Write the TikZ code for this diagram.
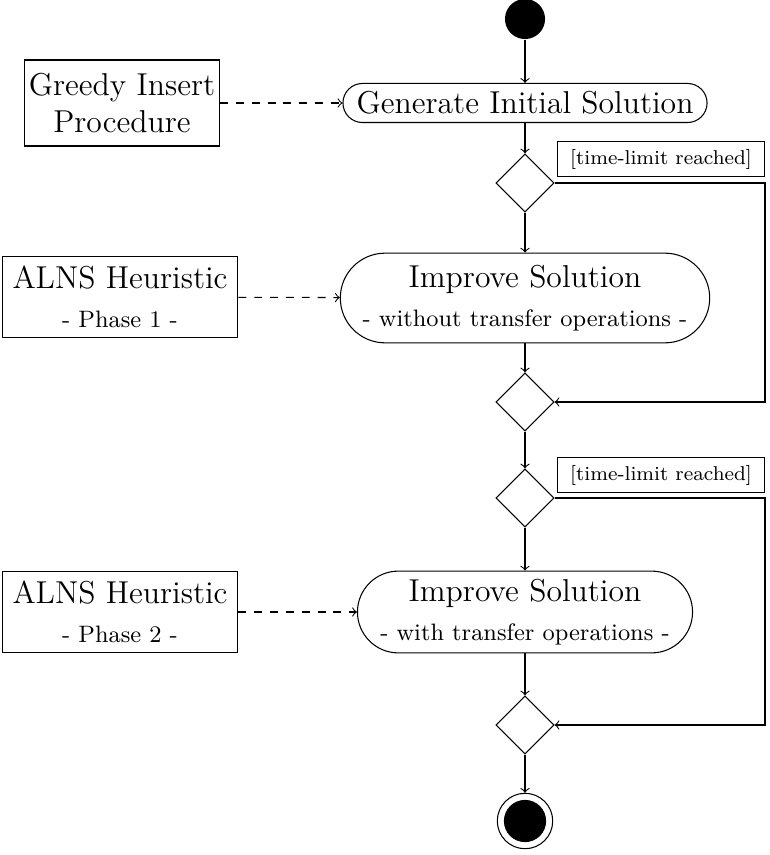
\documentclass[tikz,border=0pt]{standalone}
\usepackage{tikz}
\usetikzlibrary{positioning}
\usetikzlibrary{shapes.geometric}
\usetikzlibrary{calc}

\begin{document}
\begin{tikzpicture}[x=0.379pt,y=-0.379pt]
		\tikzset{
			action/.style={draw,rounded corners=7.4pt,minimum width=138pt,minimum height=14.8pt,inner sep=0pt,font=\large,align=center},
		}
		\tikzset{
			procbox/.style={draw,rectangle,inner sep=0pt,font=\large,align=center},
		}
		\tikzset{
			decision/.style={draw,diamond,minimum size=22pt,inner sep=0pt},
		}
		\tikzset{
			guard/.style={draw,rectangle,minimum width=78.5pt,minimum height=13.6pt,inner sep=0pt,font=\fontsize{7.6}{9}\selectfont},
		}
		\tikzset{
			edge/.style={color=black},
		}
		
		\useasboundingbox (0,0) rectangle (769,855);
		
		\node[circle,fill=black,minimum size=15.2pt,inner sep=0pt] (start) at (525, 19) {};
		
		\node[action] (gen) at (525, 103) {Generate Initial Solution};
		\node[procbox,minimum width=74pt,minimum height=32.6pt] (greedy) at (122, 103) {Greedy Insert\\Procedure};
		
		\node[decision] (d1) at (525, 183) {};
		\node[guard] (lab1) at (661, 159) {[time-limit reached]};
		
		\node[action,minimum width=140pt,minimum height=34pt,rounded corners=17pt] (imp1) at (525, 298) {Improve Solution\\[1pt]{\small - without transfer operations -}};
		\node[procbox,minimum width=89.4pt,minimum height=30.7pt] (alns1) at (120, 297) {ALNS Heuristic\\[1pt]{\small - Phase 1 -}};
		
		\node[decision] (d2) at (525, 402) {};
		
		\node[decision] (d3) at (525, 498) {};
		\node[guard] (lab2) at (661, 475) {[time-limit reached]};
		
		\node[action,minimum width=127pt,minimum height=31pt,rounded corners=15.5pt] (imp2) at (525, 612) {Improve Solution\\[1pt]{\small - with transfer operations -}};
		\node[procbox,minimum width=89.4pt,minimum height=30.7pt] (alns2) at (120, 612) {ALNS Heuristic\\[1pt]{\small - Phase 2 -}};
		
		\node[decision] (d4) at (525, 725) {};
		
		\node[circle,draw,minimum size=21pt,inner sep=0pt] (end) at (525, 821) {};
		\node[circle,fill=black,minimum size=16pt,inner sep=0pt] (endin) at (525, 821) {};
		
		\coordinate (r1) at (765, 183);
		\coordinate (r2) at (765, 402);
		\coordinate (r3) at (765, 498);
		\coordinate (r4) at (765, 725);
		
		\draw[->,edge] (start) to (gen);
		\draw[->,edge] (gen) to (d1);
		\draw[->,edge] (d1) to (imp1);
		\draw[->,edge] (imp1) to (d2);
		\draw[->,edge] (d2) to (d3);
		\draw[->,edge] (d3) to (imp2);
		\draw[->,edge] (imp2) to (d4);
		\draw[->,edge] (d4) to (end);
		\draw[->,edge] (d1.east) -- (r1) -- (r2) -- (d2.east);
		\draw[->,edge] (d3.east) -- (r3) -- (r4) -- (d4.east);
		\draw[->,edge,dashed] (greedy) to (gen);
		\draw[->,edge,dashed] (alns1) to (imp1);
		\draw[->,edge,dashed] (alns2) to (imp2);
	\end{tikzpicture}
\end{document}
